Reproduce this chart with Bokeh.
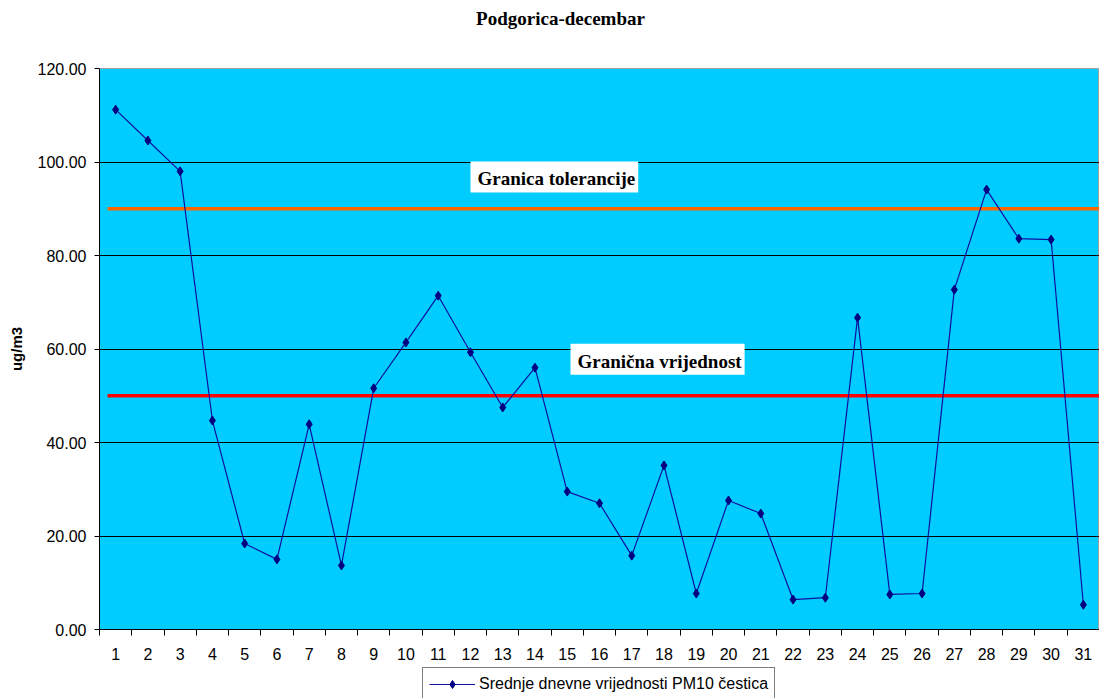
from bokeh.plotting import figure
from bokeh.layouts import column
from bokeh.models import (Range1d, FixedTicker, NumeralTickFormatter, Label,
                          Legend, LegendItem)
from bokeh.embed import file_html
from bokeh.resources import INLINE

# Daily mean PM10 concentrations, Podgorica, December
days = list(range(1, 32))
pm10 = [111.2, 104.6, 98.0, 44.7, 18.4, 15.0, 43.9, 13.7, 51.6, 61.4,
        71.4, 59.3, 47.5, 56.0, 29.5, 27.0, 15.8, 35.1, 7.7, 27.6,
        24.8, 6.4, 6.8, 66.7, 7.5, 7.7, 72.7, 94.1, 83.6, 83.4, 5.3]

tolerance_limit = 90.0   # Granica tolerancije
limit_value = 50.0       # Granična vrijednost

y_ticks = [0, 20, 40, 60, 80, 100, 120]
grid_ticks = [20, 40, 60, 80, 100]
day_bounds = [d - 0.5 for d in days] + [days[-1] + 0.5]

title_text = "Podgorica-decembar"
y_label_text = "ug/m3"
series_label = "Srednje dnevne vrijednosti PM10 čestica"

SANS = "Liberation Sans"
SERIF = "Liberation Serif"

SERIES_LINE = dict(line_color="#1010A0", line_width=1.2)
SERIES_MARK = dict(marker="diamond", size=9, fill_color="#000080",
                   line_color="#000080")

TITLE_H = 56
TOP_GAP = 68 - TITLE_H
CHART_H = 664 - TITLE_H
LEGEND_H = 698 - 664


def strip(height):
    """A blank full-width band used for the heading and the legend."""
    f = figure(width=1099, height=height, output_backend="svg",
               toolbar_location=None, x_axis_type=None, y_axis_type=None,
               x_range=Range1d(0, 1), y_range=Range1d(1000, 1001),
               min_border=0)
    f.outline_line_color = None
    f.background_fill_color = "white"
    f.border_fill_color = "white"
    f.grid.visible = False
    return f


# heading
head = strip(TITLE_H)
head.add_layout(Label(x=461, y=TITLE_H - 18, x_units="screen", y_units="screen",
                      text=title_text, text_align="center",
                      text_baseline="middle", text_font=SERIF,
                      text_font_style="bold", text_font_size="19px",
                      text_color="black"))

# main chart
p = figure(width=1099, height=CHART_H, output_backend="svg",
           toolbar_location=None,
           x_range=Range1d(0.5, 31.5), y_range=Range1d(0, 120),
           min_border_left=99, min_border_right=0, min_border_top=TOP_GAP,
           min_border_bottom=CHART_H - TOP_GAP - 561)

p.background_fill_color = "#00CCFF"
p.border_fill_color = "white"
p.outline_line_color = "#a0a0a0"
p.outline_line_width = 1

# y axis
yax = p.yaxis[0]
yax.ticker = FixedTicker(ticks=y_ticks)
yax.formatter = NumeralTickFormatter(format="0.00")
yax.major_tick_out = 5
yax.major_tick_in = 0
yax.minor_tick_line_color = None
yax.major_label_standoff = 8
yax.major_label_text_font = SANS
yax.major_label_text_font_size = "16px"
yax.major_label_text_color = "black"
yax.axis_line_color = "black"
yax.major_tick_line_color = "black"
yax.axis_label = y_label_text
yax.axis_label_standoff = 10
yax.axis_label_text_font = SANS
yax.axis_label_text_font_style = "bold"
yax.axis_label_text_font_size = "15px"
yax.axis_label_text_color = "black"

# x axis: labels under each day, tick marks between days
xax = p.xaxis[0]
xax.ticker = FixedTicker(ticks=days, minor_ticks=day_bounds)
xax.major_tick_line_color = None
xax.major_tick_out = 0
xax.major_tick_in = 0
xax.minor_tick_out = 6
xax.minor_tick_in = 0
xax.minor_tick_line_color = "black"
xax.major_label_standoff = 12
xax.major_label_text_font = SANS
xax.major_label_text_font_size = "16px"
xax.major_label_text_color = "black"
xax.axis_line_color = "black"

p.xgrid.visible = False
p.ygrid.ticker = FixedTicker(ticks=grid_ticks)
p.ygrid.grid_line_color = "black"
p.ygrid.grid_line_width = 1

# threshold lines
p.segment(x0=0.75, x1=31.5, y0=tolerance_limit, y1=tolerance_limit,
          line_color="#FF6600", line_width=3.5)
p.segment(x0=0.75, x1=31.5, y0=limit_value, y1=limit_value,
          line_color="#FF0000", line_width=3.5)

# data series
p.line(days, pm10, **SERIES_LINE)
p.scatter(days, pm10, **SERIES_MARK)

# threshold captions
for txt, xx, yy in [("Granica tolerancije", 14.6, 96.8),
                    ("Granična vrijednost", 17.8, 57.8)]:
    p.add_layout(Label(x=xx, y=yy, text=txt, text_align="center",
                       text_baseline="middle", text_font=SERIF,
                       text_font_style="bold", text_font_size="19px",
                       text_color="black", background_fill_color="white",
                       padding=(7, 3, 7, 3)))

# legend band; its sample glyphs sit outside the visible range
leg = strip(LEGEND_H)
l_ln = leg.line(days, pm10, **SERIES_LINE)
l_sc = leg.scatter(days, pm10, **SERIES_MARK)

legend = Legend(items=[LegendItem(label=series_label, renderers=[l_ln, l_sc])],
                location=(323, LEGEND_H - 6 - 31), orientation="horizontal",
                label_text_font=SANS, label_text_font_size="16px",
                label_text_color="black", border_line_color="black",
                border_line_width=1, background_fill_color="white",
                background_fill_alpha=1, glyph_width=46, label_standoff=4,
                padding=6, margin=0, spacing=0)
leg.add_layout(legend)

layout = column(head, p, leg, spacing=0)
open("out.html", "w").write(file_html(layout, INLINE))
